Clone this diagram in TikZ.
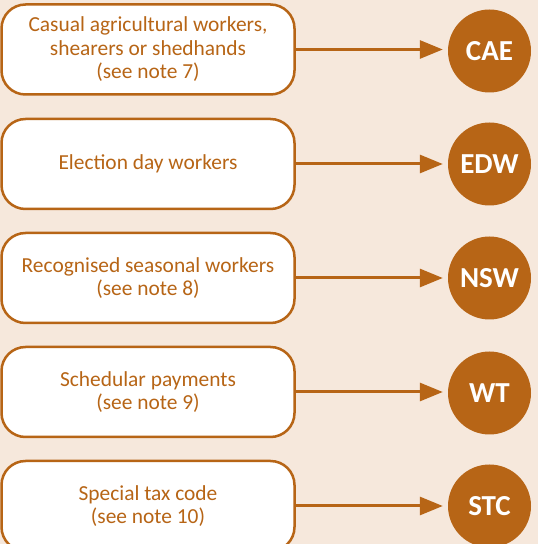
\documentclass[tikz,border=0pt]{standalone}
\usepackage{fontspec}
\setmainfont{Carlito}
\usetikzlibrary{arrows.meta}
\definecolor{bgcol}{RGB}{246,232,220}
\definecolor{brn}{RGB}{183,101,22}
\begin{document}
\begin{tikzpicture}[x=1pt,y=1pt,
  box/.style={draw=brn, line width=2.5pt, fill=white, rounded corners=24pt,
    minimum width=293pt, minimum height=90pt, inner sep=0pt, align=center,
    text=brn, font=\fontsize{21.4}{23.5}\selectfont},
  badge/.style={circle, fill=brn, minimum size=83pt, inner sep=0pt,
    text=white, font=\fontsize{29}{32}\selectfont\bfseries},
  conn/.style={draw=brn, line width=3pt, shorten >=5pt,
    -{Triangle[length=23pt,width=18pt]}}]
\useasboundingbox[fill=bgcol] (0,0) rectangle (538,544);
\node[box] (b1) at (148,494.5) {Casual agricultural workers,\\shearers or shedhands\\(see note 7)};
\node[box] (b2) at (148,380) {Election day workers};
\node[box] (b3) at (148,266) {Recognised seasonal workers\\(see note 8)};
\node[box] (b4) at (148,152) {Schedular payments\\(see note 9)};
\node[box] (b5) at (148,38) {Special tax code\\(see note 10)};
\node[badge] (c1) at (489.5,493) {CAE};
\node[badge] (c2) at (489.5,380) {EDW};
\node[badge] (c3) at (489.5,266) {NSW};
\node[badge] (c4) at (489.5,151) {WT};
\node[badge] (c5) at (489.5,38) {STC};
\foreach \i in {1,...,5} \draw[conn] (b\i.east) -- (b\i.east -| c\i.west);
\end{tikzpicture}
\end{document}
